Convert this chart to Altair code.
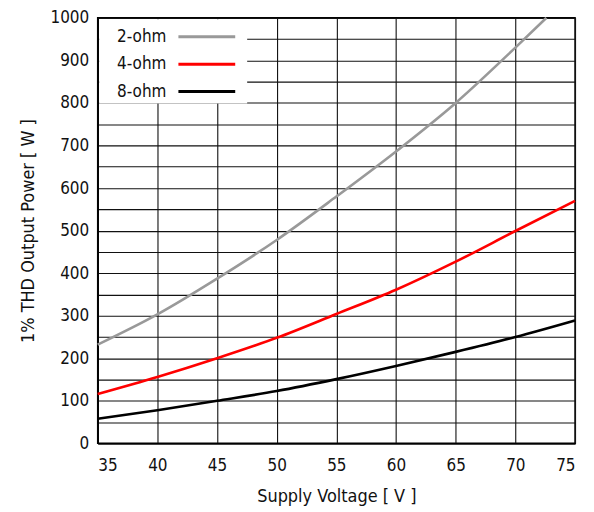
import altair as alt
import pandas as pd

# ---- data ----
series_names = ["2-ohm", "4-ohm", "8-ohm"]
series_colors = ["#999999", "#ff0000", "#000000"]

volts_2 = [35, 40, 45, 50, 55, 60, 65, 70, 72.6]
power_2 = [232, 303, 387, 478, 580, 686, 800, 930, 1000]

volts_4 = [35, 40, 45, 50, 55, 60, 65, 70, 75]
power_4 = [116, 156, 200, 248, 304, 361, 427, 499, 570]

volts_8 = [35, 40, 45, 50, 55, 60, 65, 70, 75]
power_8 = [58, 78, 100, 123, 151, 182, 215, 250, 289]

x_ticks = [35, 40, 45, 50, 55, 60, 65, 70, 75]
y_ticks = list(range(0, 1001, 50))

FONT = "DejaVu Sans Condensed"

rows = []
for name, vs, ps in [(series_names[0], volts_2, power_2),
                     (series_names[1], volts_4, power_4),
                     (series_names[2], volts_8, power_8)]:
    for v, p in zip(vs, ps):
        rows.append({"series": name, "volt": v, "power": p})
df = pd.DataFrame(rows)

W, H = 479, 427

lines = alt.Chart(df).mark_line(strokeWidth=2.6, interpolate="monotone").encode(
    x=alt.X("volt:Q", scale=alt.Scale(domain=[35, 75], nice=False),
            axis=alt.Axis(values=x_ticks, title="Supply Voltage [ V ]", format="d")),
    y=alt.Y("power:Q", scale=alt.Scale(domain=[0, 1000], nice=False),
            axis=alt.Axis(values=y_ticks, title="1% THD Output Power [ W ]", format="d",
                          labelExpr="datum.value % 100 == 0 ? datum.label : ''")),
    color=alt.Color("series:N", scale=alt.Scale(domain=series_names, range=series_colors),
                    legend=None),
    detail="series:N",
)

one = pd.DataFrame({"k": [0]})
legend_bg = alt.Chart(one).mark_rect(fill="white").encode(
    x=alt.value(1.5), x2=alt.value(150), y=alt.value(1.5), y2=alt.value(86)
)

legend_layers = [legend_bg]
for i, (name, col) in enumerate(zip(series_names, series_colors)):
    ldf = pd.DataFrame({"label": [name]})
    yy = 19 + 27.5 * i
    legend_layers.append(
        alt.Chart(ldf).mark_text(align="right", baseline="middle", font=FONT,
                                 fontSize=17, color="#111").encode(
            text="label:N", x=alt.value(69), y=alt.value(yy))
    )
    legend_layers.append(
        alt.Chart(ldf).mark_rule(strokeWidth=3, color=col).encode(
            x=alt.value(81), x2=alt.value(138), y=alt.value(yy))
    )

chart = alt.layer(lines, *legend_layers).properties(
    width=W, height=H, padding={"top": 0, "left": 12, "right": 5, "bottom": 5}
).configure_view(
    stroke="#000", strokeWidth=1.5
).configure_axis(
    grid=True, gridColor="#111", gridWidth=1.1, gridOpacity=1,
    domainColor="#000", domainWidth=1.5,
    tickSize=0,
    labelFont=FONT, labelFontSize=17, labelColor="#111",
    titleFont=FONT, titleFontSize=18, titleColor="#111", titleFontWeight="normal",
).configure_axisX(
    labelPadding=14, titlePadding=14
).configure_axisY(
    labelPadding=9, titlePadding=12
)

chart.save("out.html", embed_options={"renderer": "svg", "actions": False})
